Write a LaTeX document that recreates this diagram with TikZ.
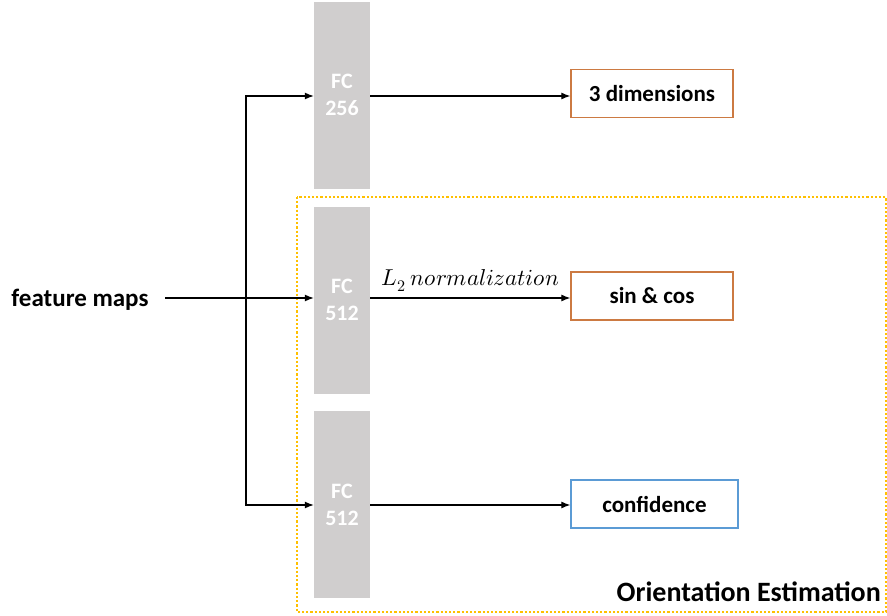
\documentclass[tikz,border=0pt]{standalone}
\usepackage{fontspec}
\usepackage{unicode-math}
\setmainfont{Carlito}
\setmathfont{Latin Modern Math}
\usepackage{tikz}
\usetikzlibrary{arrows,arrows.meta,positioning}
\definecolor{fcgray}{RGB}{208,206,206}
\definecolor{outorange}{RGB}{204,122,66}
\definecolor{outblue}{RGB}{91,155,213}
\definecolor{oegold}{RGB}{255,192,0}
\tikzstyle{fc}=[fill=fcgray,text=white,font=\fontsize{22}{27}\selectfont\bfseries,minimum width=56pt,minimum height=187pt,align=center,inner sep=0pt]
\tikzstyle{outbox}=[draw=outorange,line width=1.3pt,font=\fontsize{23}{27}\selectfont\bfseries,minimum width=162pt,minimum height=48pt,inner sep=0pt]
\tikzstyle{edge}=[->, >={Latex[length=9pt,width=7pt]},draw,line width=1.2pt]

\begin{document}
\begin{tikzpicture}[x=1pt,y=-1pt]
        \useasboundingbox (0,0) rectangle (887,616);
        % orientation estimation frame
        \draw [oegold,line width=2.2pt,dotted] (297,197) rectangle (886,612);
        \node [anchor=south east,font=\fontsize{28}{33}\selectfont\bfseries,inner sep=0pt] (oe) at (881,602) {Orientation Estimation};

        \node [font=\fontsize{25}{30}\selectfont\bfseries] (fm) at (80,300) {feature maps};
        \node [fc] (fc1) at (342,95) {FC\\256};
        \node [fc] (fc2) at (342,300) {FC\\512};
        \node [fc] (fc3) at (342,504.5) {FC\\512};

        \node [outbox] (dim) at (652,93.5) {3 dimensions};
        \node [outbox] (sc) at (652,296) {sin \& cos};
        \node [outbox,draw=outblue,minimum width=167pt] (conf) at (654.5,504) {confidence};

        \coordinate (fmend) at (165,298);
        \coordinate (split) at (246,298);
        \path [edge] (fmend) -- (fc2.west |- split);
        \path [edge] (split) |- (fc1.west |- 0,96);
        \path [edge] (split) |- (fc3.west |- 0,505);
        \path [edge] (fc1.east |- 0,96) -- (dim.west |- 0,96);
        \path [edge] (fc2.east |- 0,298) -- node [above=3pt,font=\fontsize{23}{27}\selectfont] {$L_2\ normalization$} (sc.west |- 0,298);
        \path [edge] (fc3.east |- 0,505) -- (conf.west |- 0,505);
      \end{tikzpicture}
\end{document}
